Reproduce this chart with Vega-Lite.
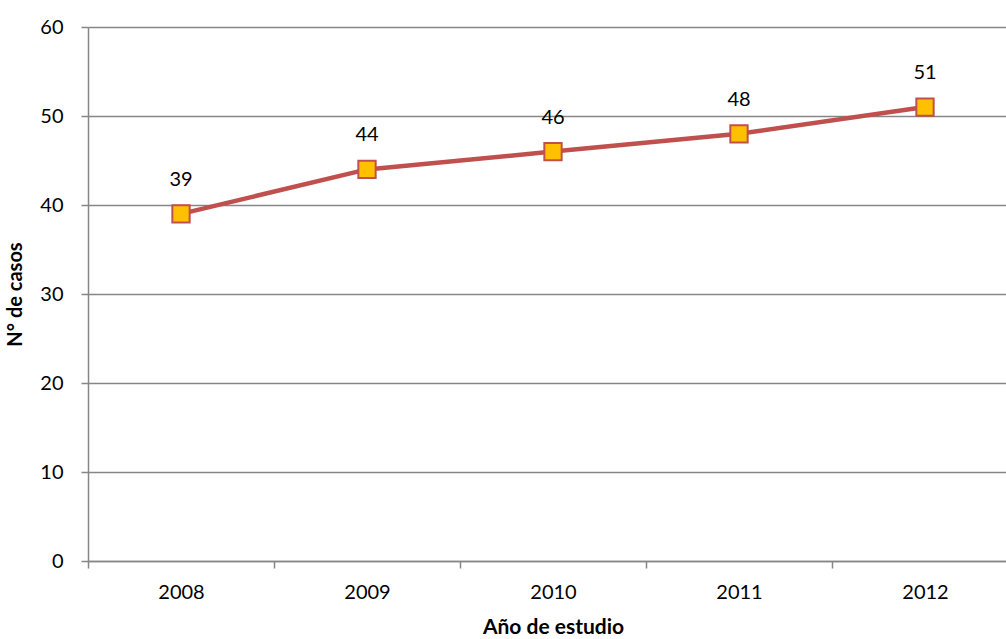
{
  "$schema": "https://vega.github.io/schema/vega-lite/v6.json",
  "width": 930,
  "height": 534,
  "autosize": {"type": "none"},
  "padding": {"left": 88, "top": 27, "right": 0, "bottom": 78},
  "background": "white",
  "config": {
    "font": "Lato",
    "view": {"stroke": null},
    "axis": {
      "labelFont": "Lato",
      "titleFont": "Lato",
      "labelColor": "#000000",
      "titleColor": "#000000",
      "domainColor": "#868686",
      "tickColor": "#868686",
      "gridColor": "#868686",
      "domainWidth": 1.5,
      "tickWidth": 1.5
    }
  },
  "data": {
    "values": [
      {"year": "2008", "casos": 39},
      {"year": "2009", "casos": 44},
      {"year": "2010", "casos": 46},
      {"year": "2011", "casos": 48},
      {"year": "2012", "casos": 51}
    ]
  },
  "encoding": {
    "x": {
      "field": "year",
      "type": "ordinal",
      "bandPosition": 0.5,
      "scale": {"type": "band", "paddingInner": 0, "paddingOuter": 0},
      "axis": {
        "title": "Año de estudio",
        "titleFontSize": 21,
        "titleFontWeight": "bold",
        "titlePadding": 14,
        "labelFontSize": 20,
        "labelAngle": 0,
        "labelPadding": 14,
        "tickSize": 7,
        "tickBand": "extent",
        "grid": false
      }
    },
    "y": {
      "field": "casos",
      "type": "quantitative",
      "scale": {"domain": [0, 60], "nice": false},
      "axis": {
        "title": "N° de casos",
        "titleFontSize": 20,
        "titleFontWeight": "bold",
        "titlePadding": 14,
        "values": [0, 10, 20, 30, 40, 50, 60],
        "labelFontSize": 20,
        "labelPadding": 18,
        "tickSize": 7,
        "grid": true,
        "gridWidth": 1.5
      }
    }
  },
  "layer": [
    {"mark": {"type": "line", "color": "#C0504D", "strokeWidth": 4.5}},
    {"mark": {"type": "point", "shape": "square", "filled": true, "fill": "#FFC000", "stroke": "#C0504D", "strokeWidth": 2, "size": 300, "opacity": 1}},
    {"mark": {"type": "text", "dy": -34, "fontSize": 20, "font": "Lato", "color": "#000000"}, "encoding": {"text": {"field": "casos"}}}
  ]
}
